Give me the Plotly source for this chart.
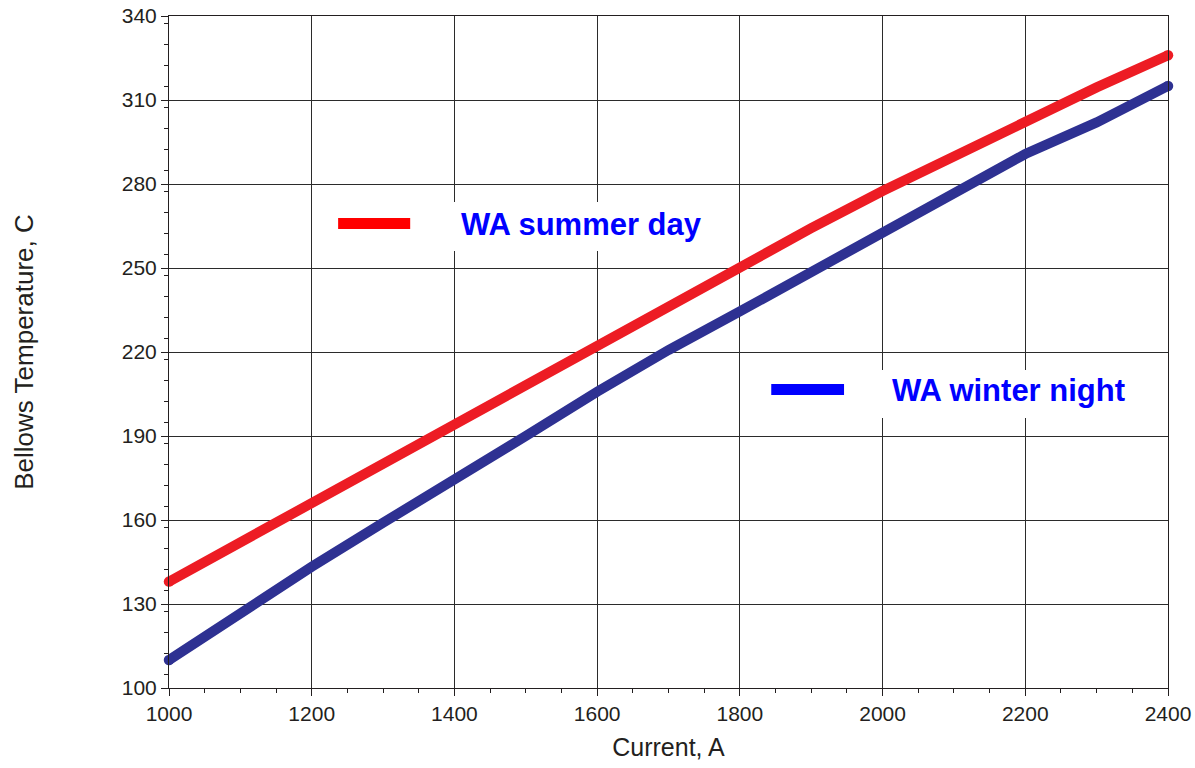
import plotly.graph_objects as go

# Bellows temperature vs. conductor current for two ambient cases
current = [1000, 1100, 1200, 1300, 1400, 1500, 1600, 1700, 1800, 1900, 2000, 2100, 2200, 2300, 2400]
summer_day = [138, 152, 166.3, 181, 194.5, 208, 222.5, 237, 250.5, 264.2, 277.5, 290, 302.5, 314.5, 326]
winter_night = [110, 127, 143.3, 159, 175, 190, 205.8, 220.7, 234.5, 248.5, 263.2, 276.5, 290.7, 302, 315]

series_names = ["WA summer day", "WA winter night"]
curve_colors = ["#ED1C24", "#2E3192"]
key_colors = ["#FF0000", "#0000FF"]

FONT = "Liberation Sans, Arial, sans-serif"
INK = "#231F20"

fig = go.Figure()
for name, ys, col in zip(series_names, [summer_day, winter_night], curve_colors):
    # round the two ends of each curve with a dot of the line's width
    caps = [10.5] + [0] * (len(ys) - 2) + [10.5]
    fig.add_trace(go.Scatter(
        x=current, y=ys, name=name, mode="lines+markers",
        line=dict(color=col, width=10),
        marker=dict(size=caps, color=col, opacity=1, line=dict(width=0)),
        showlegend=False, cliponaxis=False,
    ))

# Key boxes: white panel, colour swatch and bold label
keys = [
    dict(box=(1220, 1770, 256.1, 273.6), swatch=(1237, 1338, 265.9), text=(1406, 265.7)),
    dict(box=(1830, 2345, 196.4, 213.6), swatch=(1844, 1946, 206.6), text=(2010, 206.1)),
]
for k, name, col in zip(keys, series_names, key_colors):
    x0, x1, y0, y1 = k["box"]
    fig.add_shape(type="rect", xref="x", yref="y", x0=x0, x1=x1, y0=y0, y1=y1,
                  fillcolor="white", line=dict(width=0), layer="above")
    sx0, sx1, sy = k["swatch"]
    fig.add_shape(type="line", xref="x", yref="y", x0=sx0, x1=sx1, y0=sy, y1=sy,
                  line=dict(color=col, width=11), layer="above")
    tx, ty = k["text"]
    fig.add_annotation(x=tx, y=ty, xref="x", yref="y", text="<b>%s</b>" % name,
                       showarrow=False, xanchor="left", yanchor="middle",
                       font=dict(family=FONT, size=31, color="#0000FF"))

axis_common = dict(
    showline=True, linecolor=INK, linewidth=1, mirror=True,
    showgrid=True, gridcolor="#2b2b2b", gridwidth=1,
    ticks="outside", ticklen=7, tickcolor=INK, tickwidth=1,
    tickfont=dict(family=FONT, size=21, color=INK),
    zeroline=False,
)

fig.update_xaxes(
    range=[1000, 2400], tick0=1000, dtick=200,
    minor=dict(dtick=50, ticks="outside", ticklen=4, tickcolor=INK, showgrid=False),
    title=dict(text="Current, A", font=dict(family=FONT, size=25, color=INK), standoff=14),
    **axis_common,
)
fig.update_yaxes(
    range=[100, 340], tick0=100, dtick=30,
    minor=dict(dtick=7.5, ticks="outside", ticklen=4, tickcolor=INK, showgrid=False),
    title=dict(text="Bellows Temperature, C", font=dict(family=FONT, size=26, color=INK), standoff=80),
    **axis_common,
)

fig.update_layout(
    width=1195, height=768,
    margin=dict(l=169, r=27, t=16, b=80, autoexpand=False),
    paper_bgcolor="white", plot_bgcolor="white",
    font=dict(family=FONT, color=INK),
)

fig.write_html("out.html")
